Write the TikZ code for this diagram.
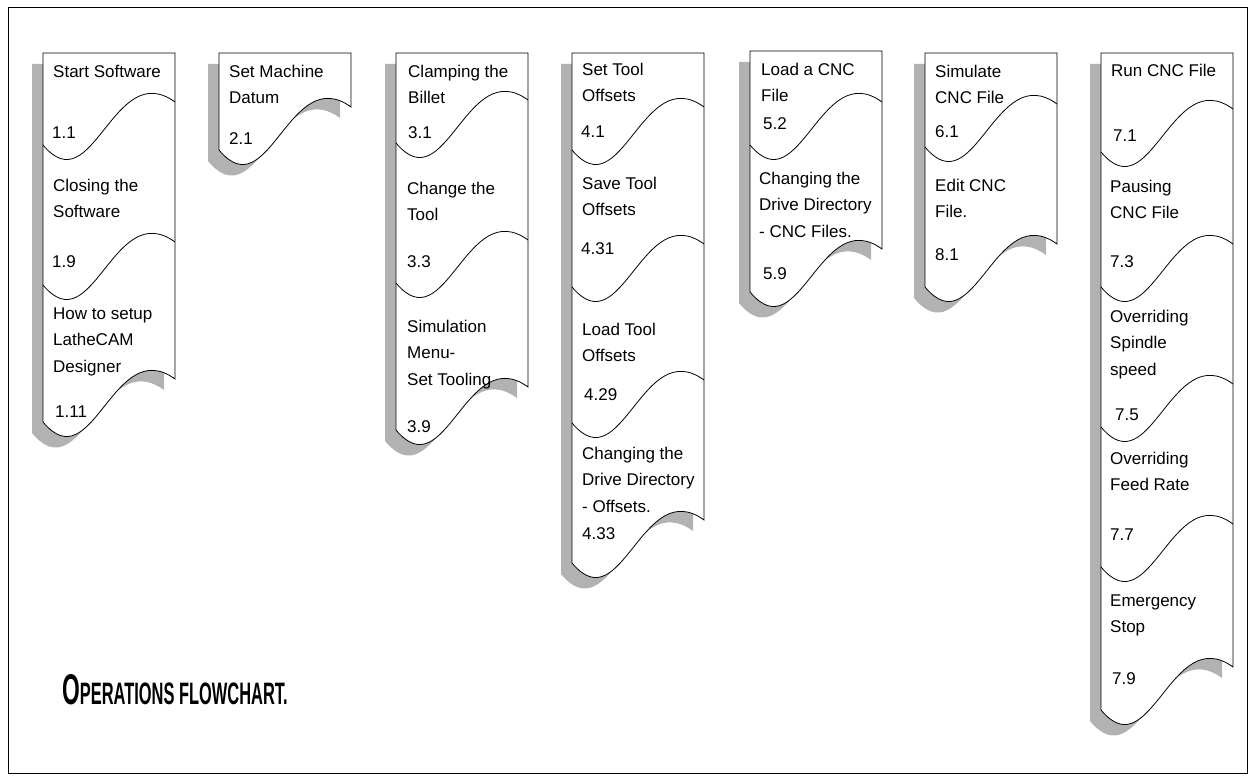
\documentclass[tikz,border=0pt]{standalone}
\usepackage{fontspec}
\setmainfont{Liberation Sans}
\newfontfamily\titlefont{Liberation Sans}[FakeStretch=0.53]
\usepackage{tikz}

\newcommand{\docstack}[2]{%
  \fill[shade,shift={(-11,11)}] (0,#2) -- (0,#1) -- (132,#1) -- (132,#2-43)
    .. controls (70,#2-88) and (50,#2+60) .. (0,#2) -- cycle;
  \draw[docline,fill=white] (0,#2) -- (0,#1) -- (132,#1) -- (132,#2-43)
    .. controls (70,#2-88) and (50,#2+60) .. (0,#2) -- cycle;}

\begin{document}
\begin{tikzpicture}[x=1pt,y=-1pt,
    docline/.style={line width=0.8pt},
    shade/.style={fill=black!30},
    doctext/.style={font=\fontsize{17}{26.5}\selectfont,align=left,inner sep=0pt,anchor=north west},
    docnum/.style={font=\fontsize{17}{20}\selectfont,inner sep=0pt,anchor=base west},
    titletext/.style={font=\titlefont\bfseries\fontsize{31}{31}\selectfont,inner sep=0pt,anchor=base west}]
  \useasboundingbox (0,0) rectangle (1255,781);
  \draw[line width=1pt] (8,8) rectangle (1247,773);

  \begin{scope}[xshift=43]
    \docstack{53}{422}
    \foreach \y in {145,285}
      \draw[docline] (0,\y) .. controls (50,\y+60) and (70,\y-88) .. (132,\y-43);
    \node[doctext] (s11) at (10,64.5) {Start Software};
    \node[docnum] (n11) at (9,139) {1.1};
    \node[doctext] (s12) at (10,178.5) {Closing the\\Software};
    \node[docnum] (n12) at (9,267) {1.9};
    \node[doctext] (s13) at (10,307.5) {How to setup\\LatheCAM\\Designer};
    \node[docnum] (n13) at (12,417) {1.11};
  \end{scope}

  \begin{scope}[xshift=219]
    \docstack{53}{150}
    \node[doctext] (s21) at (10,64.5) {Set Machine\\Datum};
    \node[docnum] (n21) at (10,145) {2.1};
  \end{scope}

  \begin{scope}[xshift=396]
    \docstack{53}{430}
    \foreach \y in {143,283}
      \draw[docline] (0,\y) .. controls (50,\y+60) and (70,\y-88) .. (132,\y-43);
    \node[doctext] (s31) at (12,64.5) {Clamping the\\Billet};
    \node[docnum] (n31) at (12,139) {3.1};
    \node[doctext] (s32) at (11,181.5) {Change the\\Tool};
    \node[docnum] (n32) at (11,267) {3.3};
    \node[doctext] (s33) at (11,319.5) {Simulation\\Menu-\\Set Tooling};
    \node[docnum] (n33) at (11,432) {3.9};
  \end{scope}

  \begin{scope}[xshift=572]
    \docstack{53}{563}
    \foreach \y in {150,287,423}
      \draw[docline] (0,\y) .. controls (50,\y+60) and (70,\y-88) .. (132,\y-43);
    \node[doctext] (s41) at (10,62.5) {Set Tool\\Offsets};
    \node[docnum] (n41) at (9,138) {4.1};
    \node[doctext] (s42) at (10,176.5) {Save Tool\\Offsets};
    \node[docnum] (n42) at (9,254) {4.31};
    \node[doctext] (s43) at (10,322.5) {Load Tool\\Offsets};
    \node[docnum] (n43) at (12,400) {4.29};
    \node[doctext] (s44) at (10,446.5) {Changing the\\Drive Directory\\- Offsets.};
    \node[docnum] (n44) at (10,539) {4.33};
  \end{scope}

  \begin{scope}[xshift=750]
    \docstack{51}{292}
    \draw[docline] (0,145) .. controls (50,205) and (70,57) .. (132,102);
    \node[doctext] (s51) at (11,62.5) {Load a CNC\\File};
    \node[docnum] (n51) at (13,129) {5.2};
    \node[doctext] (s52) at (9,171.5) {Changing the\\Drive Directory\\- CNC Files.};
    \node[docnum] (n52) at (13,279) {5.9};
  \end{scope}

  \begin{scope}[xshift=925]
    \docstack{53}{287}
    \draw[docline] (0,147) .. controls (50,207) and (70,59) .. (132,104);
    \node[doctext] (s61) at (10,64.5) {Simulate\\CNC File};
    \node[docnum] (n61) at (10,138) {6.1};
    \node[doctext] (s62) at (10,178.5) {Edit CNC\\File.};
    \node[docnum] (n62) at (10,260) {8.1};
  \end{scope}

  \begin{scope}[xshift=1101]
    \docstack{53}{710}
    \foreach \y in {152,287,427,567}
      \draw[docline] (0,\y) .. controls (50,\y+60) and (70,\y-88) .. (132,\y-43);
    \node[doctext] (s71) at (10,63.5) {Run CNC File};
    \node[docnum] (n71) at (12,142) {7.1};
    \node[doctext] (s72) at (9,179.5) {Pausing\\CNC File};
    \node[docnum] (n72) at (9,267) {7.3};
    \node[doctext] (s73) at (9,309.5) {Overriding\\Spindle\\speed};
    \node[docnum] (n73) at (14,420) {7.5};
    \node[doctext] (s74) at (9,451.5) {Overriding\\Feed Rate};
    \node[docnum] (n74) at (9,540) {7.7};
    \node[doctext] (s75) at (9,594.5) {Emergency\\Stop};
    \node[docnum] (n75) at (11,684) {7.9};
  \end{scope}

  \node[titletext] (title) at (62,704)
    {{\fontsize{43}{43}\selectfont O}PERATIONS FLOWCHART.};
\end{tikzpicture}
\end{document}
